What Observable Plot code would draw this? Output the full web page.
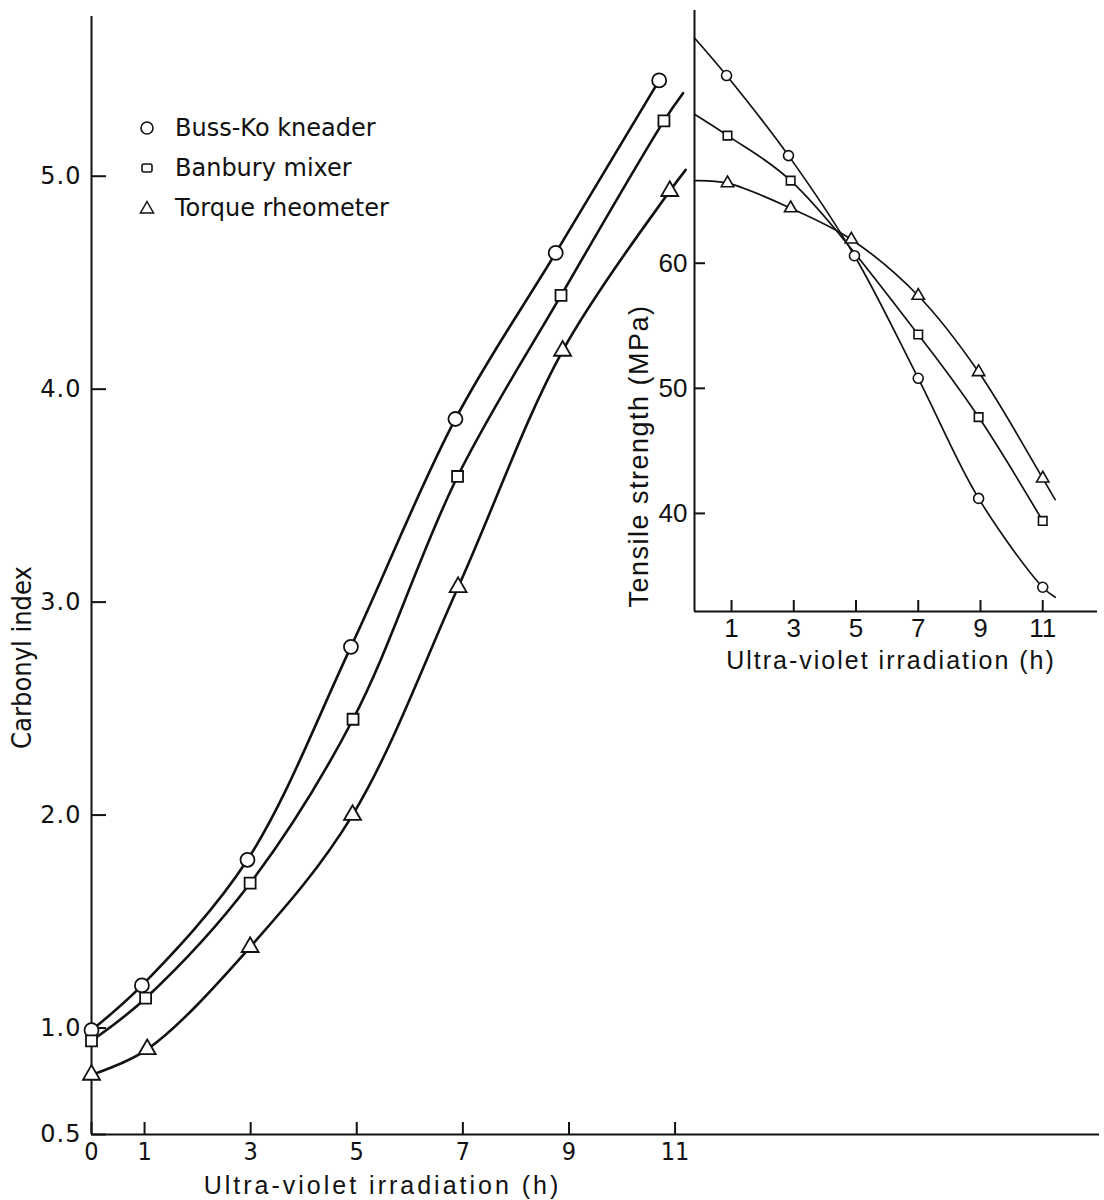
<!DOCTYPE html>
<html><head><meta charset="utf-8">
<script src="https://cdn.jsdelivr.net/npm/d3@7"></script>
<script src="https://cdn.jsdelivr.net/npm/@observablehq/plot@0.6"></script>
<style>
html,body{margin:0;padding:0;background:#fff;}
#wrap{position:relative;width:1104px;height:1200px;overflow:hidden;}
#main,#inset,#legend{position:absolute;}
#main{left:0;top:0;}
#inset{left:600px;top:0;}
#legend{left:136px;top:108px;font-family:"DejaVu Sans",sans-serif;font-size:24px;color:#111;}
.row{display:flex;align-items:center;height:40px;white-space:nowrap;}
.row svg{width:22px;height:20px;margin-right:17px;}
</style></head><body>
<div id="wrap"><div id="main"></div><div id="inset"></div><div id="legend"></div></div>
<script>
// ---------- data ----------
const seriesNames = ["Buss-Ko kneader", "Banbury mixer", "Torque rheometer"];
const seriesSymbols = ["circle", "square", "triangle"];

// Main chart: carbonyl index vs UV irradiation (h)
const mainXTicks = [0, 1, 3, 5, 7, 9, 11];
const mainYTicks = [0.5, 1, 2, 3, 4, 5];
const mainXDomain = [0, 19];
const mainYDomain = [0.5, 5.75];

const bussX = [0, 0.95, 2.94, 4.89, 6.86, 8.75, 10.70];
const bussY = [0.99, 1.20, 1.79, 2.79, 3.86, 4.64, 5.45];
const banburyX = [0, 1.02, 2.99, 4.93, 6.90, 8.85, 10.79];
const banburyY = [0.94, 1.14, 1.68, 2.45, 3.59, 4.44, 5.26];
const torqueX = [0, 1.05, 2.99, 4.92, 6.91, 8.88, 10.90];
const torqueY = [0.78, 0.90, 1.38, 2.00, 3.07, 4.18, 4.93];
// fitted curve ends beyond the last marker
const banburyTailX = [11.15], banburyTailY = [5.39];
const torqueTailX = [11.2], torqueTailY = [5.03];

// Inset: tensile strength (MPa) vs UV irradiation (h)
const insetXTicks = [1, 3, 5, 7, 9, 11];
const insetYTicks = [40, 50, 60];
const insetXDomain = [-0.19, 12.76];
const insetYDomain = [32.16, 80.2];

const tsBussX = [0.84, 2.83, 4.95, 7.0, 8.94, 11.0];
const tsBussY = [75.0, 68.6, 60.6, 50.8, 41.2, 34.1];
const tsBanburyX = [0.87, 2.9, 7.0, 8.94, 11.0];
const tsBanburyY = [70.2, 66.6, 54.3, 47.7, 39.4];
const tsTorqueX = [0.87, 2.9, 4.85, 7.0, 8.94, 11.0];
const tsTorqueY = [66.4, 64.4, 61.9, 57.4, 51.3, 42.8];
// fitted curve ends (start at the axis, end past the last marker)
const tsBussHeadX = [-0.19], tsBussHeadY = [78.0], tsBussTailX = [11.4], tsBussTailY = [33.3];
const tsBanburyHeadX = [-0.19], tsBanburyHeadY = [71.9];
const tsTorqueHeadX = [-0.19], tsTorqueHeadY = [66.6], tsTorqueTailX = [11.4], tsTorqueTailY = [41.1];

// ---------- helpers ----------
const ink = "#111";
const pts = (xs, ys) => xs.map((x, i) => ({x, y: ys[i]}));
const narrow = "'Liberation Sans Narrow','DejaVu Sans Condensed','Arial Narrow','Liberation Sans',sans-serif";
const sans = "'Liberation Sans',Arial,sans-serif";
const dejavu = "'DejaVu Sans',sans-serif";

const mainSeries = [
  {m: pts(bussX, bussY), c: pts(bussX, bussY), sym: "circle", r: 7},
  {m: pts(banburyX, banburyY), c: pts(banburyX.concat(banburyTailX), banburyY.concat(banburyTailY)), sym: "square", r: 6.2},
  {m: pts(torqueX, torqueY), c: pts(torqueX.concat(torqueTailX), torqueY.concat(torqueTailY)), sym: "triangle", r: 6.3}
];

const main = Plot.plot({
  width: 1104, height: 1200,
  marginLeft: 91, marginRight: 5, marginTop: 16, marginBottom: 66,
  x: {domain: mainXDomain},
  y: {domain: mainYDomain},
  style: {background: "transparent", color: ink, fontFamily: sans, overflow: "visible"},
  marks: [
    Plot.ruleX([mainXDomain[0]], {stroke: ink, strokeWidth: 2}),
    Plot.ruleY([mainYDomain[0]], {stroke: ink, strokeWidth: 2}),
    Plot.axisY({ticks: mainYTicks, tickFormat: d => d.toFixed(1), tickSize: -15, tickPadding: 25,
      fontSize: 24, fontFamily: dejavu, label: null, strokeWidth: 2, stroke: ink, fill: ink}),
    Plot.axisX({ticks: mainXTicks, tickFormat: d => String(d), tickSize: -12, tickPadding: 20,
      fontSize: 25, fontFamily: narrow, label: null, strokeWidth: 2, stroke: ink, fill: ink}),
    ...mainSeries.map(s => Plot.line(s.c, {x: "x", y: "y", curve: "catmull-rom", stroke: ink, strokeWidth: 2.6})),
    ...mainSeries.map(s => Plot.dot(s.m, {x: "x", y: "y", symbol: s.sym, r: s.r, fill: "white", stroke: ink, strokeWidth: 1.8})),
    Plot.text(["Carbonyl index"], {frameAnchor: "left", rotate: -90, dx: -69, dy: 82,
      fontSize: 27, fontFamily: narrow, fill: ink, textAnchor: "middle", lineAnchor: "middle"}),
    Plot.text(["Ultra-violet irradiation (h)"], {frameAnchor: "bottom-left", dx: 291, dy: 51,
      fontSize: 25, fontFamily: sans, fill: ink, textAnchor: "middle", lineAnchor: "middle"})
  ]
});
document.getElementById("main").appendChild(main);

const insetSeries = [
  {m: pts(tsBussX, tsBussY), c: pts(tsBussHeadX.concat(tsBussX, tsBussTailX), tsBussHeadY.concat(tsBussY, tsBussTailY)), sym: "circle", r: 5},
  {m: pts(tsBanburyX, tsBanburyY), c: pts(tsBanburyHeadX.concat(tsBanburyX), tsBanburyHeadY.concat(tsBanburyY)), sym: "square", r: 4.8},
  {m: pts(tsTorqueX, tsTorqueY), c: pts(tsTorqueHeadX.concat(tsTorqueX, tsTorqueTailX), tsTorqueHeadY.concat(tsTorqueY, tsTorqueTailY)), sym: "triangle", r: 4.6}
];

const inset = Plot.plot({
  width: 504, height: 680,
  marginLeft: 94, marginRight: 7, marginTop: 10, marginBottom: 69,
  x: {domain: insetXDomain},
  y: {domain: insetYDomain},
  style: {background: "transparent", color: ink, fontFamily: sans, overflow: "visible"},
  marks: [
    Plot.ruleX([insetXDomain[0]], {stroke: ink, strokeWidth: 2}),
    Plot.ruleY([insetYDomain[0]], {stroke: ink, strokeWidth: 2}),
    Plot.axisY({ticks: insetYTicks, tickFormat: d => String(d), tickSize: -11, tickPadding: 18,
      fontSize: 26, fontFamily: sans, label: null, strokeWidth: 2, stroke: ink, fill: ink}),
    Plot.axisX({ticks: insetXTicks, tickFormat: d => String(d), tickSize: -11, tickPadding: 18,
      fontSize: 26, fontFamily: sans, label: null, strokeWidth: 2, stroke: ink, fill: ink}),
    ...insetSeries.map(s => Plot.line(s.c, {x: "x", y: "y", curve: "catmull-rom", stroke: ink, strokeWidth: 1.7})),
    ...insetSeries.map(s => Plot.dot(s.m, {x: "x", y: "y", symbol: s.sym, r: s.r, fill: "white", stroke: ink, strokeWidth: 1.6})),
    Plot.text(["Tensile strength (MPa)"], {frameAnchor: "bottom-left", rotate: -90, dx: -55, dy: -4,
      fontSize: 27, fontFamily: sans, fill: ink, textAnchor: "start", lineAnchor: "middle"}),
    Plot.text(["Ultra-violet irradiation (h)"], {frameAnchor: "bottom", dx: -5, dy: 49,
      fontSize: 25, fontFamily: sans, fill: ink, textAnchor: "middle", lineAnchor: "middle"})
  ]
});
document.getElementById("inset").appendChild(inset);

// letter spacing tweaks
d3.select(main).selectAll("text").filter(function() { return this.textContent === "Ultra-violet irradiation (h)"; }).attr("letter-spacing", 3);
d3.select(main).selectAll('[aria-label="y-axis tick label"] text').attr("letter-spacing", 1);
d3.select(inset).selectAll("text").filter(function() { return this.textContent === "Ultra-violet irradiation (h)"; }).attr("letter-spacing", 2);
d3.select(inset).selectAll("text").filter(function() { return this.textContent === "Tensile strength (MPa)"; }).attr("letter-spacing", 1.5);

// legend
const legendShapes = {
  circle: '<circle cx="11" cy="10" r="6" fill="white" stroke="#111" stroke-width="1.6"/>',
  square: '<rect x="6" y="6" width="10" height="8" rx="2" fill="white" stroke="#111" stroke-width="1.6"/>',
  triangle: '<path d="M11 3.5 L17.5 15 L4.5 15 Z" fill="white" stroke="#111" stroke-width="1.5" stroke-linejoin="miter"/>'
};
const legend = d3.select("#legend");
seriesNames.forEach((name, i) => {
  const row = legend.append("div").attr("class", "row");
  row.append("svg").attr("viewBox", "0 0 22 20").html(legendShapes[seriesSymbols[i]]);
  row.append("span").text(name);
});
</script>
</body></html>
